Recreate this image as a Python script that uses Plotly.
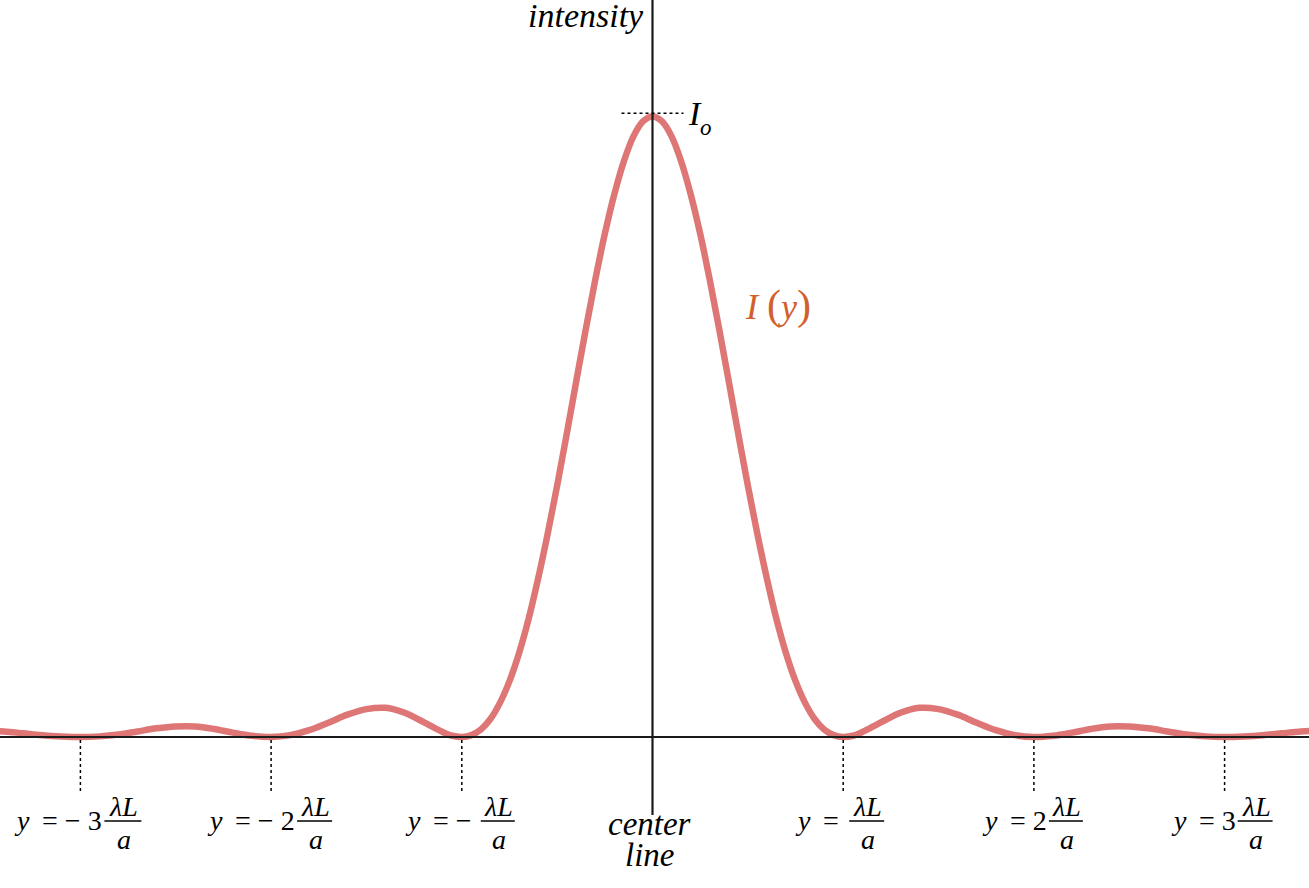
import plotly.graph_objects as go

# ---- data ----
pos = [0.0, 0.05, 0.1, 0.15, 0.2, 0.25, 0.3, 0.35, 0.4, 0.45, 0.5, 0.55, 0.6, 0.65,
       0.7, 0.75, 0.8, 0.85, 0.9, 0.95,
       1.0, 1.05, 1.1, 1.2, 1.3, 1.4, 1.5, 1.6, 1.7, 1.8, 1.9,
       2.0, 2.1, 2.2, 2.3, 2.4, 2.5, 2.6, 2.7, 2.8, 2.9,
       3.0, 3.1, 3.2, 3.3, 3.4, 3.5]
intensity = [1.000, 0.992, 0.968, 0.928, 0.875, 0.811, 0.737, 0.657, 0.573, 0.488,
             0.405, 0.327, 0.255, 0.190, 0.135, 0.090, 0.055, 0.029, 0.012, 0.003,
             0.000, 0.002, 0.008, 0.024, 0.039, 0.047, 0.045, 0.036, 0.023, 0.011, 0.003,
             0.000, 0.002, 0.007, 0.013, 0.017, 0.017, 0.014, 0.009, 0.004, 0.001,
             0.000, 0.001, 0.003, 0.006, 0.009, 0.010]

tick_vals = [-3, -2, -1, 1, 2, 3]
tick_left_text = ["<i>y</i>\u2009 = − 3",
                  "<i>y</i>\u2009 = − 2",
                  "<i>y</i>\u2009 = −",
                  "<i>y</i>\u2009 =",
                  "<i>y</i>\u2009 = 2",
                  "<i>y</i>\u2009 = 3"]
frac_num = "<i>λL</i>"
frac_den = "<i>a</i>"

# symmetric curve
xs = [-p for p in reversed(pos[1:])] + pos
ys = list(reversed(intensity[1:])) + intensity

# ---- layout helpers (pixel geometry) ----
W, H = 1309, 888
X0PX, UNIT = 652.5, 190.7
Y0PX, YUNIT = 737.0, 620.5
xr = [-X0PX / UNIT, (W - X0PX) / UNIT]
yr = [-(H - Y0PX) / YUNIT, Y0PX / YUNIT]


def py(p):
    return 1 - p / H


def px(p):
    return p / W


def mid(baseline, size):
    return py(baseline - 0.34 * size)


FONT = "Liberation Serif"
LBL = 28
bar_offsets = [(24, 61), (26, 61), (19, 53), (6, 41), (15, 49), (13, 48)]
text_gaps = [0, 0, 7, 8, 0, 0]

fig = go.Figure()
fig.add_trace(go.Scatter(x=xs, y=ys, mode="lines",
                         line=dict(color="#de7676", width=6.5, shape="spline"),
                         hoverinfo="skip", showlegend=False))

shapes = []
annotations = []
# axes
shapes.append(dict(type="line", xref="paper", yref="y", x0=0, x1=1, y0=0, y1=0,
                   line=dict(color="#1a1a1a", width=2.2)))
shapes.append(dict(type="line", xref="x", yref="paper", x0=0, x1=0, y0=1, y1=py(815),
                   line=dict(color="#1a1a1a", width=2.2)))
# I_o dotted marker
shapes.append(dict(type="line", xref="x", yref="paper", xsizemode="pixel", xanchor=0,
                   x0=-31, x1=31, y0=py(113.3), y1=py(113.3),
                   line=dict(color="black", width=1.5, dash="dot")))

for tv, lt, (b0, b1), gap in zip(tick_vals, tick_left_text, bar_offsets, text_gaps):
    shapes.append(dict(type="line", xref="x", yref="paper", x0=tv, x1=tv,
                       y0=py(740), y1=py(791),
                       line=dict(color="black", width=1.5, dash="dot")))
    shapes.append(dict(type="line", xref="x", yref="paper", xsizemode="pixel", xanchor=tv,
                       x0=b0, x1=b1, y0=py(821), y1=py(821),
                       line=dict(color="black", width=1.6)))
    annotations.append(dict(x=tv, xref="x", xshift=b0 - gap, y=mid(830, LBL), yref="paper",
                            xanchor="right", yanchor="middle", text=lt, showarrow=False,
                            font=dict(family=FONT, size=LBL, color="black")))
    cx = (b0 + b1) / 2 + 1
    annotations.append(dict(x=tv, xref="x", xshift=cx, y=mid(816.5, 28), yref="paper",
                            xanchor="center", yanchor="middle", text=frac_num, showarrow=False,
                            font=dict(family=FONT, size=28, color="black")))
    annotations.append(dict(x=tv, xref="x", xshift=cx, y=mid(849, 28), yref="paper",
                            xanchor="center", yanchor="middle", text=frac_den, showarrow=False,
                            font=dict(family=FONT, size=28, color="black")))

annotations += [
    dict(x=px(646), xref="paper", y=mid(27, 34), yref="paper", xanchor="right",
         yanchor="middle", text="<i>intensity</i>", showarrow=False,
         font=dict(family=FONT, size=34, color="black")),
    dict(x=px(686), xref="paper", y=mid(125, 34), yref="paper", xanchor="left",
         yanchor="middle", text="<i>I</i>", showarrow=False,
         font=dict(family=FONT, size=34, color="black")),
    dict(x=px(698), xref="paper", y=mid(135, 23), yref="paper", xanchor="left",
         yanchor="middle", text="<i>o</i>", showarrow=False,
         font=dict(family=FONT, size=23, color="black")),
    dict(x=px(743), xref="paper", y=mid(318, 36), yref="paper", xanchor="left",
         yanchor="middle",
         text="<i>I</i> <span style='font-size:42px'>(</span><i>y</i><span style='font-size:42px'>)</span>",
         showarrow=False, font=dict(family=FONT, size=36, color="#d2602c")),
    dict(x=0, xref="x", xshift=-3, y=mid(835, 33), yref="paper", xanchor="center",
         yanchor="middle", text="<i>center</i>", showarrow=False,
         font=dict(family=FONT, size=33, color="black")),
    dict(x=0, xref="x", xshift=-3, y=mid(866, 33), yref="paper", xanchor="center",
         yanchor="middle", text="<i>line</i>", showarrow=False,
         font=dict(family=FONT, size=33, color="black")),
]

fig.update_layout(
    width=W, height=H, margin=dict(l=0, r=0, t=0, b=0),
    font=dict(family=FONT),
    paper_bgcolor="white", plot_bgcolor="white",
    xaxis=dict(range=xr, visible=False, fixedrange=True),
    yaxis=dict(range=yr, visible=False, fixedrange=True),
    shapes=shapes, annotations=annotations, showlegend=False,
)

fig.write_html("out.html", config={"displayModeBar": False},
               post_script="document.body.style.margin='0';")
